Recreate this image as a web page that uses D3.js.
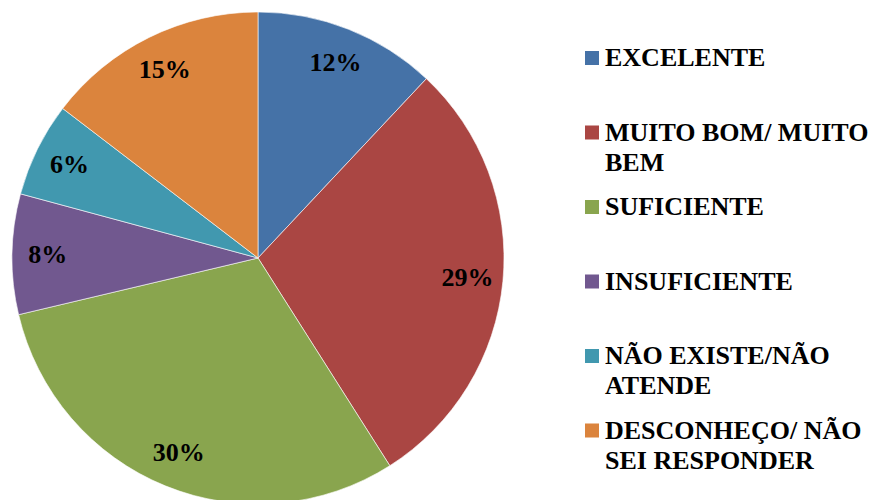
<!DOCTYPE html>
<html>
<head>
<meta charset="utf-8">
<script src="https://cdn.jsdelivr.net/npm/d3@7"></script>
<style>
  body { margin: 0; background: #fff; }
  svg text { font-family: "Liberation Serif", "Times New Roman", serif; font-weight: bold; }
</style>
</head>
<body>
<div id="chart"></div>
<script>
const categories = ["EXCELENTE", "MUITO BOM/ MUITO BEM", "SUFICIENTE", "INSUFICIENTE", "NÃO EXISTE/NÃO ATENDE", "DESCONHEÇO/ NÃO SEI RESPONDER"];
const legendLines = [["EXCELENTE"], ["MUITO BOM/ MUITO", "BEM"], ["SUFICIENTE"], ["INSUFICIENTE"], ["NÃO EXISTE/NÃO", "ATENDE"], ["DESCONHEÇO/ NÃO", "SEI RESPONDER"]];
// shares; labels show them rounded
const values = [12.0, 29.0, 30.3, 7.9, 6.2, 14.6];
const colors = ["#4572A7", "#AA4643", "#89A54E", "#71588F", "#4198AF", "#DB843D"];

const width = 875;
const height = 500;
const cx = 258;
const cy = 258;
const radius = 246;

const svg = d3.select("#chart")
                .append("svg")
                .attr("width", width)
                .attr("height", height);

const pie = d3.pie().sort(null).value(d => d);
const arcs = pie(values);

const arc = d3.arc().innerRadius(0).outerRadius(radius);
const labelArc = d3.arc().innerRadius(radius * 0.855).outerRadius(radius * 0.855);

const g = svg.append("g").attr("transform", `translate(${cx},${cy})`);

g.selectAll("path")
    .data(arcs)
    .enter()
    .append("path")
    .attr("d", arc)
    .attr("fill", (d, i) => colors[i])
    .attr("stroke", "#fff")
    .attr("stroke-width", 0.6);

g.selectAll("text")
    .data(arcs)
    .enter()
    .append("text")
    .attr("transform", d => `translate(${labelArc.centroid(d)})`)
    .attr("text-anchor", "middle")
    .attr("dy", "0.33em")
    .attr("font-size", 26)
    .attr("fill", "#000")
    .text(d => Math.round(d.data) + "%");

// legend
const legendX = 585;
const legendY0 = 66;
const legendStep = 74.5;
const lineGap = 30;

const legend = svg.append("g");
const items = legend.selectAll("g")
    .data(categories)
    .enter()
    .append("g")
    .attr("transform", (d, i) => `translate(${legendX},${legendY0 + legendStep * i})`);

items.append("rect")
    .attr("x", 0)
    .attr("y", -15)
    .attr("width", 14)
    .attr("height", 14)
    .attr("fill", (d, i) => colors[i]);

items.each(function(d, i) {
    d3.select(this).selectAll("text")
        .data(legendLines[i])
        .enter()
        .append("text")
        .attr("x", 20)
        .attr("y", (t, j) => j * lineGap)
        .attr("font-size", 26)
        .attr("fill", "#000")
        .text(t => t);
});
</script>
</body>
</html>
